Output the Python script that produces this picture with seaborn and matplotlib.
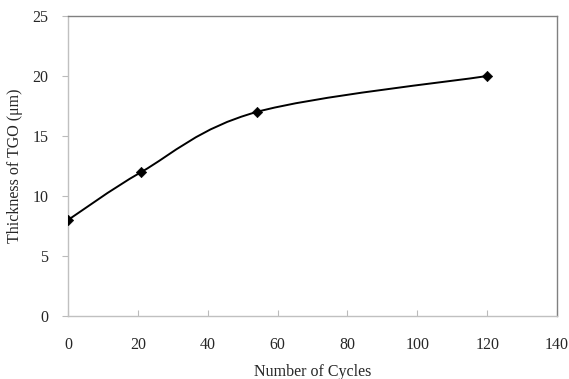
import numpy as np
import pandas as pd
import matplotlib
matplotlib.use('Agg')
import matplotlib.pyplot as plt
from matplotlib.path import Path
from matplotlib.patches import PathPatch
import seaborn as sns

# data
cycles = [0, 21, 54, 120]
thickness = [8, 12, 17, 20]
x_ticks = [0, 20, 40, 60, 80, 100, 120, 140]
y_ticks = [0, 5, 10, 15, 20, 25]

sns.set_theme(style='white')
plt.rcParams['font.family'] = ['Liberation Serif', 'DejaVu Serif']

df = pd.DataFrame({'cycles': cycles, 'thickness': thickness})

fig = plt.figure(figsize=(5.69, 3.79), dpi=100)
ax = fig.add_axes([68 / 569, 63 / 379, 489 / 569, 300 / 379])


def smooth_path(xs, ys):
    # Excel-style smoothed line: cubic Bezier segments through the points
    pts = np.column_stack([xs, ys]).astype(float)
    n = len(pts)
    verts = [pts[0]]
    codes = [Path.MOVETO]
    for i in range(n - 1):
        p0 = pts[i - 1] if i > 0 else pts[i]
        p1 = pts[i]
        p2 = pts[i + 1]
        p3 = pts[i + 2] if i + 2 < n else pts[i + 1]
        c1 = p1 + (p2 - p0) / 6.0
        c2 = p2 - (p3 - p1) / 6.0
        verts += [c1, c2, p2]
        codes += [Path.CURVE4] * 3
    return Path(verts, codes)


ax.add_patch(PathPatch(smooth_path(cycles, thickness), facecolor='none',
                       edgecolor='black', lw=1.4, zorder=2))
sns.scatterplot(data=df, x='cycles', y='thickness', marker='D', s=28,
                color='black', edgecolor='black', ax=ax, zorder=3, legend=False)

ax.set_xlim(0, 140)
ax.set_ylim(0, 25)
ax.set_xticks(x_ticks)
ax.set_yticks(y_ticks)
ax.tick_params(axis='x', direction='in', length=4, width=0.8, color='#bbbbbb',
               pad=15, labelsize=11.5, bottom=True)
ax.tick_params(axis='y', direction='out', length=4, width=0.8, color='#bbbbbb',
               pad=10, labelsize=11.5, left=True)

for side in ['left', 'bottom']:
    ax.spines[side].set_color('#c0c0c0')
    ax.spines[side].set_linewidth(1.0)
for side in ['top', 'right']:
    ax.spines[side].set_color('#808080')
    ax.spines[side].set_linewidth(1.0)

ax.set_xlabel('Number of Cycles', fontsize=11.5, va='center')
ax.xaxis.set_label_coords(0.5, -(372 - 316) / 300)
ax.set_ylabel('Thickness of TGO (μm)', fontsize=11.5, va='center')
ax.yaxis.set_label_coords(-(68 - 15) / 489, 0.5)

fig.savefig('out.png', dpi=100)
